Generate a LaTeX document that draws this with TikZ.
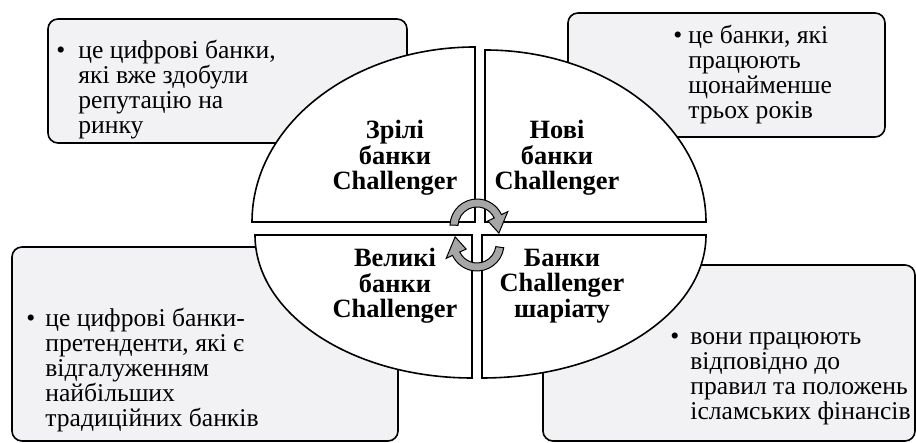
\documentclass[tikz,border=0pt]{standalone}
\usepackage{fontspec}
\setmainfont{Liberation Serif}
\usetikzlibrary{calc}
\definecolor{notefill}{HTML}{F2F2F4}
\definecolor{arrowgray}{HTML}{A6A6A6}
\newcommand{\bulgap}[1]{\llap{\textbullet\hspace{#1}}}

\begin{document}
\begin{tikzpicture}[x=0.5pt, y=0.5pt,
  note/.style={draw=black, fill=notefill, line width=0.8pt, rounded corners=5pt},
  quarter/.style={draw=black, fill=white, line width=0.8pt},
  notetext/.style={anchor=base west, align=left, inner sep=0pt,
                   font=\fontsize{12.8}{12.5}\selectfont},
  kind/.style={align=center, inner sep=0pt,
               font=\fontsize{13.2}{12.8}\selectfont\bfseries},
  turn/.style={draw=black, fill=arrowgray, line width=0.5pt},
]
\useasboundingbox (0,0) rectangle (916,443);

% note boxes
\draw[note] (48,300) rectangle (407,424);
\draw[note] (568,306) rectangle (885,430);
\draw[note] (12,2) rectangle (398,196);
\draw[note] (543,2) rectangle (915,178);

% four quarters of the oval
\draw[quarter] (475,221) -- (252,221)
  arc[start angle=180, end angle=90, x radius=223, y radius=175] -- cycle;
\draw[quarter] (485,221) -- (485,393)
  arc[start angle=90, end angle=0, x radius=221, y radius=172] -- cycle;
\draw[quarter] (472,208) -- (255,208)
  arc[start angle=180, end angle=270, x radius=217, y radius=143] -- cycle;
\draw[quarter] (482,208) -- (482,65)
  arc[start angle=270, end angle=360, x radius=224, y radius=143] -- cycle;

% circular arrows
\begin{scope}[shift={(477,217)}]
  \draw[turn] (178:27) arc[start angle=178, end angle=25, radius=27]
    -- (25:34) -- (-18:23) -- (25:12) -- (25:19)
    arc[start angle=25, end angle=178, radius=19] -- cycle;
\end{scope}
\begin{scope}[shift={(477,199)}]
  \draw[turn] (-8:27) arc[start angle=-8, end angle=-155, radius=27]
    -- (-155:34) -- (-198:23) -- (-155:12) -- (-155:19)
    arc[start angle=-155, end angle=-8, radius=19] -- cycle;
\end{scope}

% labels
\node[kind] (mature) at (395,285) {Зрілі\\банки\\Challenger};
\node[kind] (new) at (557,285) {Нові\\банки\\Challenger};
\node[kind] (big) at (395,157) {Великі\\банки\\Challenger};
\node[kind] (sharia) at (562,157) {Банки\\Challenger\\шаріату};

\node[notetext] (matureNote) at (78,309)
  {\bulgap{6.5pt}це цифрові банки,\\які вже здобули\\репутацію на\\ринку};
\node[notetext] (newNote) at (688,324)
  {\bulgap{3pt}це банки, які\\працюють\\щонайменше\\трьох років};
\node[notetext] (bigNote) at (45,16)
  {\bulgap{5pt}це цифрові банки-\\претенденти, які є\\відгалуженням\\найбільших\\традиційних банків};
\node[notetext] (shariaNote) at (690,23)
  {\bulgap{5.5pt}вони працюють\\відповідно до\\правил та положень\\ісламських фінансів};

\end{tikzpicture}
\end{document}
